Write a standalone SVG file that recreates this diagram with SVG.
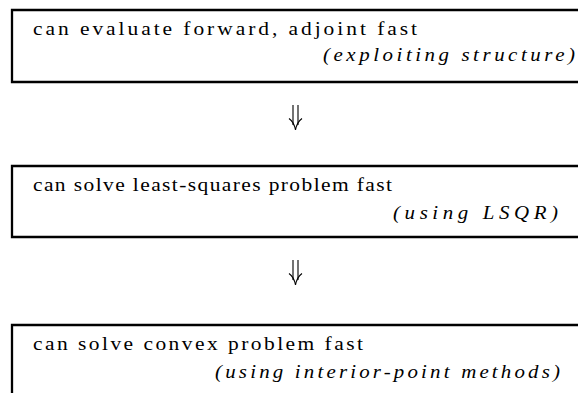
<svg xmlns="http://www.w3.org/2000/svg" width="579" height="393" viewBox="0 0 579 393">
<style>
.box{fill:none;stroke:#000;stroke-width:2.3;stroke-linecap:butt;stroke-linejoin:miter}
text{font-family:'Liberation Serif','Times New Roman',serif;fill:#000}
.t{font-size:19px}
.i{font-size:19px;font-style:italic;text-anchor:end}
.arr{fill:none;stroke:#000;stroke-width:1.1}
</style>
<rect width="579" height="393" fill="#fff"/>
<g id="node1">
<path class="box" d="M578,10 H12 V82 H578"/>
<text class="t" transform="translate(33,35) scale(1.13,1)" x="0" y="0" textLength="339.8" lengthAdjust="spacing">can evaluate forward, adjoint fast</text>
<text class="i" transform="translate(575,61) scale(1.1,1)" x="0" y="0" textLength="229.1" lengthAdjust="spacing">(exploiting structure)</text>
</g>
<g id="node2">
<path class="box" d="M578,166 H12 V237 H578"/>
<text class="t" transform="translate(33,191) scale(1.13,1)" x="0" y="0" textLength="317.7" lengthAdjust="spacing">can solve least-squares problem fast</text>
<text class="i" transform="translate(558,219) scale(1.1,1)" x="0" y="0" textLength="150" lengthAdjust="spacing">(using LSQR)</text>
</g>
<g id="node3">
<path class="box" d="M578,325 H12 V393"/>
<text class="t" transform="translate(33,350) scale(1.13,1)" x="0" y="0" textLength="292" lengthAdjust="spacing">can solve convex problem fast</text>
<text class="i" transform="translate(560,378) scale(1.1,1)" x="0" y="0" textLength="313.6" lengthAdjust="spacing">(using interior-point methods)</text>
</g>
<g id="connectors">
<g>
<path class="arr" d="M293,105 V125 M298,105 V125"/>
<path class="arr" d="M289,118.5 Q294,122 295.5,130 Q297,122 302,118.5"/>
</g>
<g transform="translate(0,155)">
<path class="arr" d="M293,105 V125 M298,105 V125"/>
<path class="arr" d="M289,118.5 Q294,122 295.5,130 Q297,122 302,118.5"/>
</g>
</g>
</svg>
